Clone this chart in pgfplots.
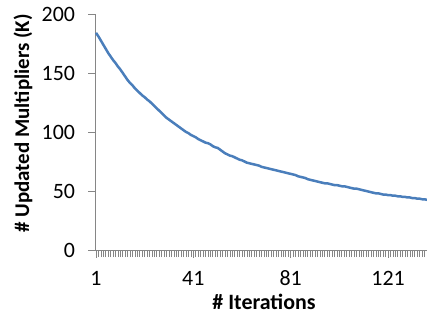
\documentclass[border=0pt]{standalone}
\usepackage{fontspec}
\setmainfont{Carlito}
\usepackage{pgfplots}
\pgfplotsset{compat=1.18}
\usetikzlibrary{calc}
\definecolor{lineblue}{HTML}{4A7EBB}
\definecolor{axgray}{HTML}{868686}
\begin{document}
\begin{tikzpicture}
\begin{axis}[
  scale only axis, width=331bp, height=236bp,
  xmin=1, xmax=137, ymin=0, ymax=200,
  axis lines*=left,
  xtick={1,41,81,121}, minor xtick={1,...,137}, ytick={0,50,...,200},
  xtick pos=bottom, ytick pos=left,
  tick align=outside, major tick length=7.5bp, minor tick length=7bp,
  every tick/.style={axgray, line width=0.7bp},
  axis line style={axgray, line width=1bp},
  tick label style={font=\fontsize{22}{26}\selectfont, text=black},
  /pgf/number format/assume math mode=true,
  yticklabel style={xshift=-10bp},
  xticklabel style={yshift=-10bp},
  clip=false,
]
\coordinate (ll) at (rel axis cs:0,0);
\addplot[lineblue, line width=2.5bp, line join=round] coordinates {
(1,184)(2,181)(3,177.5)(4,174)(5,170.5)(6,167)(7,164)(8,161)(9,158.5)(10,155.5)
(11,153)(12,150)(13,147)(14,144)(15,141.5)(16,139.5)(17,137)(18,135)(19,133)(20,131)
(21,129.5)(22,127.5)(23,126)(24,124)(25,122)(26,120)(27,118)(28,116)(29,114)(30,112)
(31,110.5)(32,109)(33,107.5)(34,106)(35,104.5)(36,103)(37,101.5)(38,100)(39,99)(40,97.5)
(41,96.5)(42,95.5)(43,94)(44,93)(45,92)(46,91)(47,90.5)(48,89.5)(49,88)(50,87)
(51,86.5)(52,85)(53,83.5)(54,82)(55,81)(56,80)(57,79.5)(58,78.5)(59,77.5)(60,76.5)
(61,76)(62,75)(63,74)(64,73.5)(65,73)(66,72.5)(67,72)(68,71.5)(69,70.5)(70,70)
(71,69.5)(72,69)(73,68.5)(74,68)(75,67.5)(76,67)(77,66.5)(78,66)(79,65.5)(80,65)
(81,64.5)(82,64)(83,63.5)(84,62.5)(85,62)(86,61.5)(87,61)(88,60)(89,59.5)(90,59)
(91,58.5)(92,58)(93,57.5)(94,57)(95,56.5)(96,56.5)(97,56)(98,55.5)(99,55)(100,55)
(101,54.5)(102,54)(103,54)(104,53.5)(105,53)(106,52.5)(107,52)(108,52)(109,51.5)(110,51)
(111,50.5)(112,50)(113,49.5)(114,49)(115,48.5)(116,48)(117,48)(118,47.5)(119,47)(120,47)
(121,46.5)(122,46.5)(123,46)(124,46)(125,45.5)(126,45.5)(127,45)(128,45)(129,44.5)(130,44.5)
(131,44)(132,44)(133,43.5)(134,43.5)(135,43)(136,43)(137,42.5)
};
\end{axis}
\node[font=\fontsize{22}{26}\selectfont\bfseries, anchor=center] at ($(ll)+(168bp,-52bp)$) {\# Iterations};
\node[font=\fontsize{21}{25}\selectfont\bfseries, rotate=90, anchor=center] at ($(ll)+(-73bp,126.5bp)$) {\# Updated Multipliers (K)};
\pgfresetboundingbox
\path[use as bounding box] ($(ll)+(-96bp,-64bp)$) rectangle ($(ll)+(331bp,250bp)$);
\end{tikzpicture}
\end{document}
